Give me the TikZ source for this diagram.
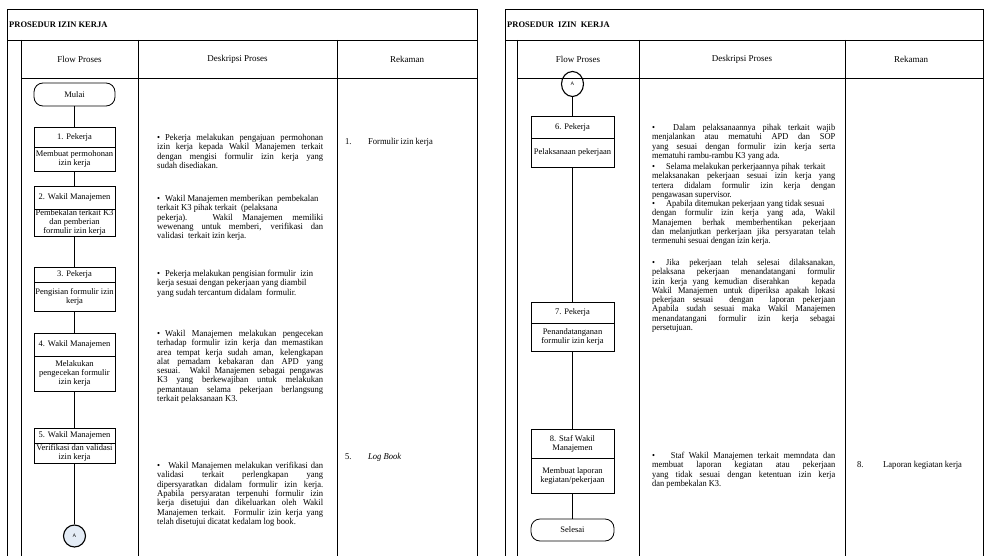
\documentclass[tikz,border=0pt]{standalone}
\usepackage{fontspec}
\setmainfont{Liberation Serif}
\newfontfamily\condfont{Liberation Serif}[FakeStretch=0.95]
\newfontfamily\econdfont{Liberation Serif}[FakeStretch=0.93]
\usetikzlibrary{shapes.geometric}
\newcommand{\fsz}{\fontsize{8.5}{9}\selectfont}
\newcommand{\hsz}{\fontsize{9}{10}\selectfont}
\newcommand{\dsz}{\condfont\fontsize{9}{9.3}\selectfont}
\newcommand{\esz}{\econdfont\fontsize{9}{9.3}\selectfont}
\newcommand{\bul}[1]{\hangindent=#1\hangafter=1\noindent\makebox[#1][l]{\textbullet}}
\begin{document}
\begin{tikzpicture}[x=1pt,y=-1pt]
\tikzset{
  frame/.style={line width=0.9pt},
  fbox/.style={draw, line width=0.8pt, minimum width=81pt, inner sep=0.2pt, align=center, font=\fsz},
  rbox/.style={fbox, minimum width=83pt},
  term/.style={draw, line width=0.8pt, minimum width=81pt, rounded corners=9pt, font=\fsz},
  conn/.style={draw, ellipse, line width=1.1pt, minimum width=22pt, inner sep=0pt, font=\sffamily\fontsize{5}{6}\selectfont},
  link/.style={line width=0.8pt},
  hd/.style={font=\hsz},
  desc/.style={anchor=north west, inner sep=0pt, text width=#1, align=justify, font=\dsz},
  edesc/.style={anchor=north west, inner sep=0pt, text width=#1, align=justify, font=\esz},
  rec/.style={anchor=base west, inner sep=0pt, font=\dsz},
}
\useasboundingbox (0,0) rectangle (987,556);
\fill[white] (0,0) rectangle (987,556);

% ---------------- left panel ----------------
\draw[frame] (7,556) -- (7,9) -- (477,9) -- (477,556);
\draw[frame] (7,40) -- (477,40);
\draw[frame] (21,40) -- (21,556);
\draw[frame] (21,78) -- (477,78);
\draw[frame] (138,40) -- (138,556);
\draw[frame] (337,40) -- (337,556);

\node[anchor=west, inner sep=0pt, font=\bfseries\fsz] (t1) at (9,25) {PROSEDUR IZIN KERJA};
\node[hd] (h1a) at (79.5,59) {Flow Proses};
\node[hd] (h1b) at (237.5,59) {Deskripsi Proses};
\node[hd] (h1c) at (407,59) {Rekaman};

\node[term, minimum height=23pt] (mulai) at (74.5,94.5) {Mulai};
\node[fbox, minimum height=20pt] (b1h) at (74.5,137) {1. Pekerja};
\node[fbox, minimum height=24pt] (b1b) at (74.5,159) {Membuat permohonan\\izin kerja};
\node[fbox, minimum height=23pt] (b2h) at (74.5,197.5) {2. Wakil Manajemen};
\node[fbox, minimum height=27pt] (b2b) at (74.5,222.5) {Pembekalan terkait K3\\dan pemberian\\formulir izin kerja};
\node[fbox, minimum height=15pt] (b3h) at (74.5,274.5) {3. Pekerja};
\node[fbox, minimum height=29pt] (b3b) at (74.5,296.5) {Pengisian formulir izin\\kerja};
\node[fbox, minimum height=23pt] (b4h) at (74.5,344.5) {4. Wakil Manajemen};
\node[fbox, minimum height=35pt] (b4b) at (74.5,373.5) {Melakukan\\pengecekan formulir\\izin kerja};
\node[fbox, minimum height=15pt] (b5h) at (74.5,435.5) {5. Wakil Manajemen};
\node[fbox, minimum height=20pt] (b5b) at (74.5,453) {Verifikasi dan validasi\\izin kerja};
\node[conn, minimum height=22pt, fill={rgb,255:red,228;green,236;blue,246}] (ca) at (74.5,536) {A};

\draw[link] (mulai) -- (b1h);
\draw[link] (b1b) -- (b2h);
\draw[link] (b2b) -- (b3h);
\draw[link] (b3b) -- (b4h);
\draw[link] (b4b) -- (b5h);
\draw[link] (b5b) -- (ca);

\node[desc=166pt] (d1) at (157,134) {\bul{8pt}Pekerja melakukan pengajuan permohonan\linebreak izin kerja kepada Wakil Manajemen terkait\linebreak dengan mengisi formulir izin kerja yang\linebreak sudah disediakan.};
\node[desc=166pt] (d2) at (157,195) {\bul{8pt}Wakil Manajemen memberikan\ \ pembekalan\newline terkait K3 pihak terkait\ \ (pelaksana\newline pekerja). Wakil Manajemen memiliki\linebreak wewenang untuk memberi, verifikasi dan\linebreak validasi\ \ terkait izin kerja.};
\node[desc=166pt] (d3) at (157,270) {\bul{8pt}Pekerja melakukan pengisian formulir\ \ izin\newline kerja sesuai dengan pekerjaan yang diambil\newline yang sudah tercantum didalam\ \ formulir.};
\node[desc=166pt] (d4) at (157,330) {\bul{8pt}Wakil Manajemen melakukan pengecekan\linebreak terhadap formulir izin kerja dan memastikan\linebreak area tempat kerja sudah aman, kelengkapan\linebreak alat pemadam kebakaran dan APD yang\linebreak sesuai. Wakil Manajemen sebagai pengawas\linebreak K3 yang berkewajiban untuk melakukan\linebreak pemantauan selama pekerjaan berlangsung\linebreak terkait pelaksanaan K3.};
\node[desc=166pt] (d5) at (157,462) {\bul{8pt}\ Wakil Manajemen melakukan verifikasi dan\linebreak validasi terkait perlengkapan yang\linebreak dipersyaratkan didalam formulir izin kerja.\linebreak Apabila persyaratan terpenuhi formulir izin\linebreak kerja disetujui dan dikeluarkan oleh Wakil\linebreak Manajemen terkait. Formulir izin kerja yang\linebreak telah disetujui dicatat kedalam log book.};

\node[rec] (r1n) at (345,144.5) {1.};
\node[rec] (r1t) at (368,144.5) {Formulir izin kerja};
\node[rec] (r5n) at (345,459.5) {5.};
\node[rec] (r5t) at (368,459.5) {\textit{Log Book}};

% ---------------- right panel ----------------
\draw[frame] (505,556) -- (505,9) -- (983,9) -- (983,556);
\draw[frame] (505,40) -- (983,40);
\draw[frame] (517,40) -- (517,556);
\draw[frame] (517,78) -- (983,78);
\draw[frame] (639,40) -- (639,556);
\draw[frame] (845,40) -- (845,556);

\node[anchor=west, inner sep=0pt, font=\bfseries\fsz] (t2) at (507,25) {PROSEDUR\ \ IZIN\ \ KERJA};
\node[hd] (h2a) at (578,59) {Flow Proses};
\node[hd] (h2b) at (742,59) {Deskripsi Proses};
\node[hd] (h2c) at (911,59) {Rekaman};

\node[conn, minimum height=25pt] (cb) at (572.5,84) {A};
\node[rbox, minimum height=22pt] (b6h) at (572.5,127) {6. Pekerja};
\node[rbox, minimum height=29pt] (b6b) at (572.5,152.5) {Pelaksanaan pekerjaan};
\node[rbox, minimum height=21pt] (b7h) at (572.5,312.5) {7. Pekerja};
\node[rbox, minimum height=28pt] (b7b) at (572.5,337) {Penandatanganan\\formulir izin kerja};
\node[rbox, minimum height=29pt] (b8h) at (572.5,443.5) {8. Staf Wakil\\Manajemen};
\node[rbox, minimum height=35pt] (b8b) at (572.5,475.5) {Membuat laporan\\kegiatan/pekerjaan};
\node[term, minimum width=83pt, minimum height=22pt] (selesai) at (572.5,530) {Selesai};

\draw[link] (cb) -- (b6h);
\draw[link] (b6b) -- (b7h);
\draw[link] (b7b) -- (b8h);
\draw[link] (b8b) -- (selesai);

\node[edesc=183pt] (e1) at (652,124) {\bul{14pt}\ Dalam pelaksanaannya pihak terkait wajib\linebreak menjalankan atau mematuhi APD dan SOP\linebreak yang sesuai dengan formulir izin kerja serta\linebreak mematuhi rambu-rambu K3 yang ada.};
\node[edesc=183pt] (e2) at (652,163) {\bul{14pt}Selama melakukan perkerjaannya pihak\ \ terkait\newline melaksanakan pekerjaan sesuai izin kerja yang\linebreak tertera didalam formulir izin kerja dengan\linebreak pengawasan supervisor.};
\node[edesc=183pt] (e3) at (652,200) {\bul{14pt}Apabila ditemukan pekerjaan yang tidak sesuai\newline dengan formulir izin kerja yang ada, Wakil\linebreak Manajemen berhak memberhentikan pekerjaan\linebreak dan melanjutkan perkerjaan jika persyaratan telah\linebreak termenuhi sesuai dengan izin kerja.};
\node[edesc=183pt] (e4) at (652,259) {\bul{14pt}Jika pekerjaan telah selesai dilaksanakan,\linebreak pelaksana pekerjaan menandatangani formulir\linebreak izin kerja yang kemudian diserahkan\ \ \ \ kepada\linebreak Wakil Manajemen untuk diperiksa apakah lokasi\linebreak pekerjaan sesuai\ \ dengan\ \ laporan pekerjaan\linebreak Apabila sudah sesuai maka Wakil Manajemen\linebreak menandatangani formulir izin kerja sebagai\linebreak persetujuan.};
\node[edesc=183pt] (e5) at (652,452) {\bul{14pt}\ Staf Wakil Manajemen terkait memndata dan\linebreak membuat laporan kegiatan atau pekerjaan\linebreak yang tidak sesuai dengan ketentuan izin kerja\linebreak dan pembekalan K3.};

\node[rec] (r8n) at (857,467) {8.};
\node[rec] (r8t) at (883,467) {Laporan kegiatan kerja};
\end{tikzpicture}
\end{document}
